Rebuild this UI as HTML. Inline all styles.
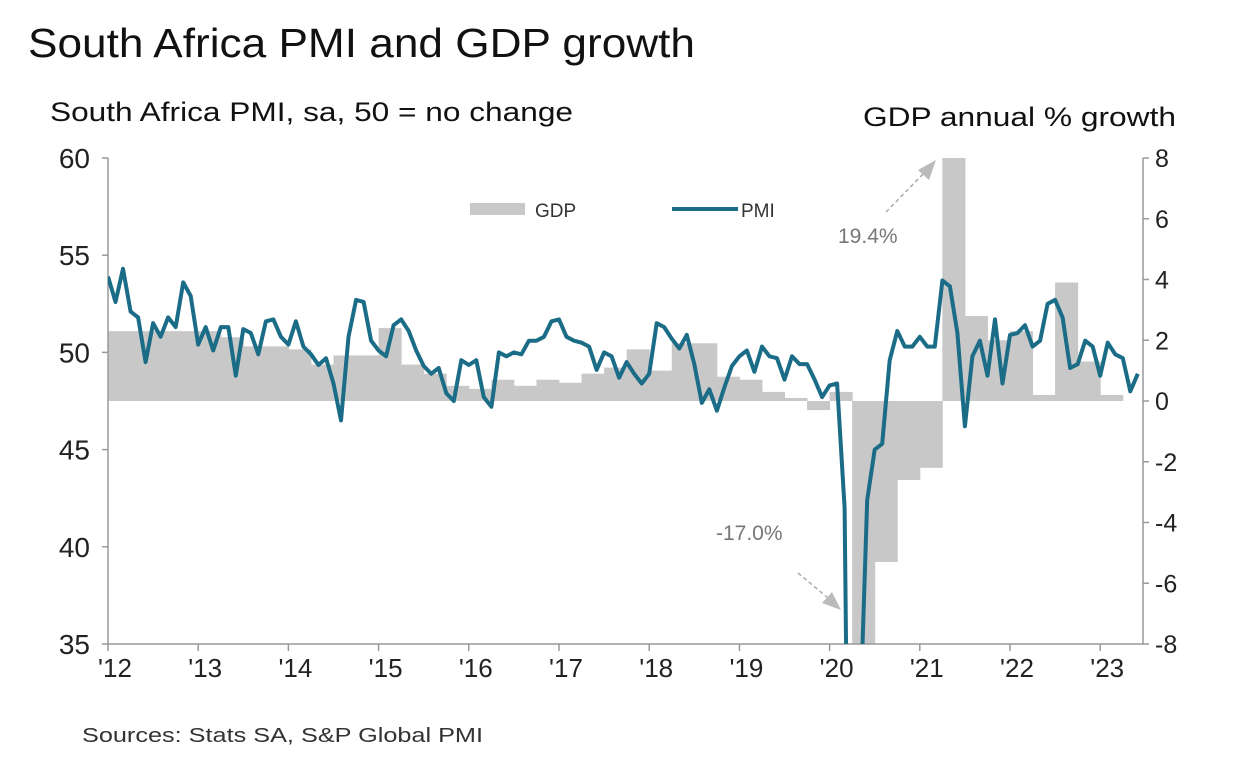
<!DOCTYPE html>
<html><head><meta charset="utf-8"><style>
html,body{margin:0;padding:0;background:#fff;width:1234px;height:784px;overflow:hidden;font-family:"Liberation Sans",sans-serif}
svg{display:block}
</style></head><body>
<svg id="c" width="1234" height="784" xmlns="http://www.w3.org/2000/svg" font-family="Liberation Sans, sans-serif">
<text x="28" y="57" font-size="41" fill="#111" textLength="667" lengthAdjust="spacingAndGlyphs">South Africa PMI and GDP growth</text>
<text x="50" y="121" font-size="27" fill="#111" textLength="523" lengthAdjust="spacingAndGlyphs">South Africa PMI, sa, 50 = no change</text>
<text x="863" y="126" font-size="27" fill="#111" textLength="313" lengthAdjust="spacingAndGlyphs">GDP annual % growth</text>
<text x="82" y="742" font-size="20" fill="#333" textLength="401" lengthAdjust="spacingAndGlyphs">Sources: Stats SA, S&amp;P Global PMI</text>
<defs><clipPath id="pc"><rect x="108" y="158" width="1035" height="486"/></clipPath></defs>
<g id="bars" clip-path="url(#pc)"></g>
<g id="axes"></g>
<g id="line" clip-path="url(#pc)"></g>
<g id="legend">
<rect x="470" y="203" width="55" height="12" fill="#c8c8c8"/>
<text x="535" y="217" font-size="19" fill="#333">GDP</text>
<line x1="672" y1="209" x2="738" y2="209" stroke="#1b6c86" stroke-width="4"/>
<text x="741" y="217" font-size="19" fill="#333">PMI</text>
</g>
<g>
<text x="838" y="243" font-size="21" fill="#777">19.4%</text>
<line x1="886" y1="212" x2="925" y2="172" stroke="#aaa" stroke-width="1.5" stroke-dasharray="4,3"/>
<polygon points="936,160 918,170 929,180" fill="#bbb"/>
</g>
<g>
<text x="716" y="540" font-size="21" fill="#777">-17.0%</text>
<line x1="798" y1="573" x2="828" y2="598" stroke="#aaa" stroke-width="1.5" stroke-dasharray="4,3"/>
<polygon points="841,610 822,603 832,592" fill="#bbb"/>
</g>
</svg>
<script>
const gdpStartYear = 2012;
const gdpValues = [2.3,2.3,2.3,2.3, 2.3,2.1,1.8,1.8, 1.7,1.2,1.5,1.5, 2.4,1.2,0.9,0.5, 0.4,0.7,0.5,0.7, 0.6,0.9,1.1,1.7, 1.0,1.9,1.9,0.8, 0.7,0.3,0.1,-0.3, 0.3,-17.0,-5.3,-2.6, -2.2,19.4,2.8,2.0, 2.3,0.2,3.9,1.3, 0.2];
const pmiValues = [
53.9,52.6,54.3,52.1,51.8,49.5,51.5,50.8,51.8,51.3,53.6,52.9,
50.4,51.3,50.1,51.3,51.3,48.8,51.2,51.0,49.9,51.6,51.7,50.8,
50.4,51.6,50.3,49.9,49.35,49.7,48.4,46.5,50.8,52.7,52.6,50.6,
50.1,49.8,51.4,51.7,51.1,50.1,49.3,48.9,49.2,47.9,47.5,49.6,
49.35,49.6,47.7,47.2,50.0,49.8,50.0,49.9,50.6,50.6,50.8,51.6,
51.7,50.8,50.6,50.5,50.3,49.1,50.0,49.8,48.7,49.5,48.9,48.4,
48.9,51.5,51.3,50.7,50.2,50.9,49.4,47.4,48.1,47.0,48.2,49.3,
49.8,50.1,49.0,50.3,49.8,49.7,48.6,49.8,49.4,49.4,48.6,47.7,
48.3,48.4,42.0,5.7,30.5,42.4,45.0,45.3,49.6,51.1,50.3,50.3,
50.8,50.3,50.3,53.7,53.4,51.0,46.2,49.8,50.6,48.8,51.7,48.4,
50.9,51.0,51.4,50.3,50.6,52.5,52.7,51.8,49.2,49.4,50.6,50.3,
48.8,50.5,49.9,49.7,48.0,48.9];
const xTickLabels = ["'12","'13","'14","'15","'16","'17","'18","'19","'20","'21","'22","'23"];
const leftTicks = [60,55,50,45,40,35];
const rightTicks = [8,6,4,2,0,-2,-4,-6,-8];

const NS="http://www.w3.org/2000/svg";
const X0=108, YW=90.2, TOP=158, BOT=644, RIGHT=1143;
const xYear = t => X0 + t*YW;
const yL = v => TOP + (60-v)*(BOT-TOP)/25;
const yR = v => TOP + (8-v)*(BOT-TOP)/16;
function mk(tag, attrs, parent){const e=document.createElementNS(NS,tag);for(const k in attrs)e.setAttribute(k,attrs[k]);parent.appendChild(e);return e;}

const bars=document.getElementById('bars');
gdpValues.forEach((v,i)=>{
  const x1=xYear(i/4), x2=xYear((i+1)/4);
  const y0=yR(0), yv=yR(v);
  const r=mk('rect',{x:x1,y:Math.min(y0,yv),width:x2-x1+0.5,height:Math.max(Math.abs(yv-y0),1.5),fill:'#c8c8c8'},bars);
  
  
});

const ax=document.getElementById('axes');
const aL=mk('line',{x1:X0,y1:TOP,x2:X0,y2:BOT,stroke:'#999','stroke-width':1.5},ax);


const aR=mk('line',{x1:RIGHT,y1:TOP,x2:RIGHT,y2:BOT,stroke:'#999','stroke-width':1.5},ax);


const aB=mk('line',{x1:X0,y1:BOT,x2:RIGHT,y2:BOT,stroke:'#999','stroke-width':1.5},ax);


leftTicks.forEach(v=>{
  const y=yL(v);
  mk('line',{x1:X0-6,y1:y,x2:X0,y2:y,stroke:'#999','stroke-width':1.5},ax);
  const t=mk('text',{x:X0-18,y:y+10,'font-size':28,fill:'#222','text-anchor':'end'},ax);
  t.textContent=v;
  
  
});
rightTicks.forEach(v=>{
  const y=yR(v);
  mk('line',{x1:RIGHT,y1:y,x2:RIGHT+6,y2:y,stroke:'#999','stroke-width':1.5},ax);
  const t=mk('text',{x:RIGHT+12,y:y+9,'font-size':25,fill:'#222'},ax);
  t.textContent=v;
  
  
});
xTickLabels.forEach((lab,i)=>{
  const x=xYear(i);
  mk('line',{x1:x,y1:BOT,x2:x,y2:BOT+7,stroke:'#999','stroke-width':1.5},ax);
  const t=mk('text',{x:x+7,y:BOT+33,'font-size':26,fill:'#222','text-anchor':'middle'},ax);
  t.textContent=lab;
  
  
});

const ln=document.getElementById('line');
const pts=pmiValues.map((v,i)=>xYear(i/12).toFixed(1)+','+yL(v).toFixed(1)).join(' ');
const pl=mk('polyline',{points:pts,fill:'none',stroke:'#1b6c86','stroke-width':4,'stroke-linejoin':'round'},ln);


</script>
</body></html>
